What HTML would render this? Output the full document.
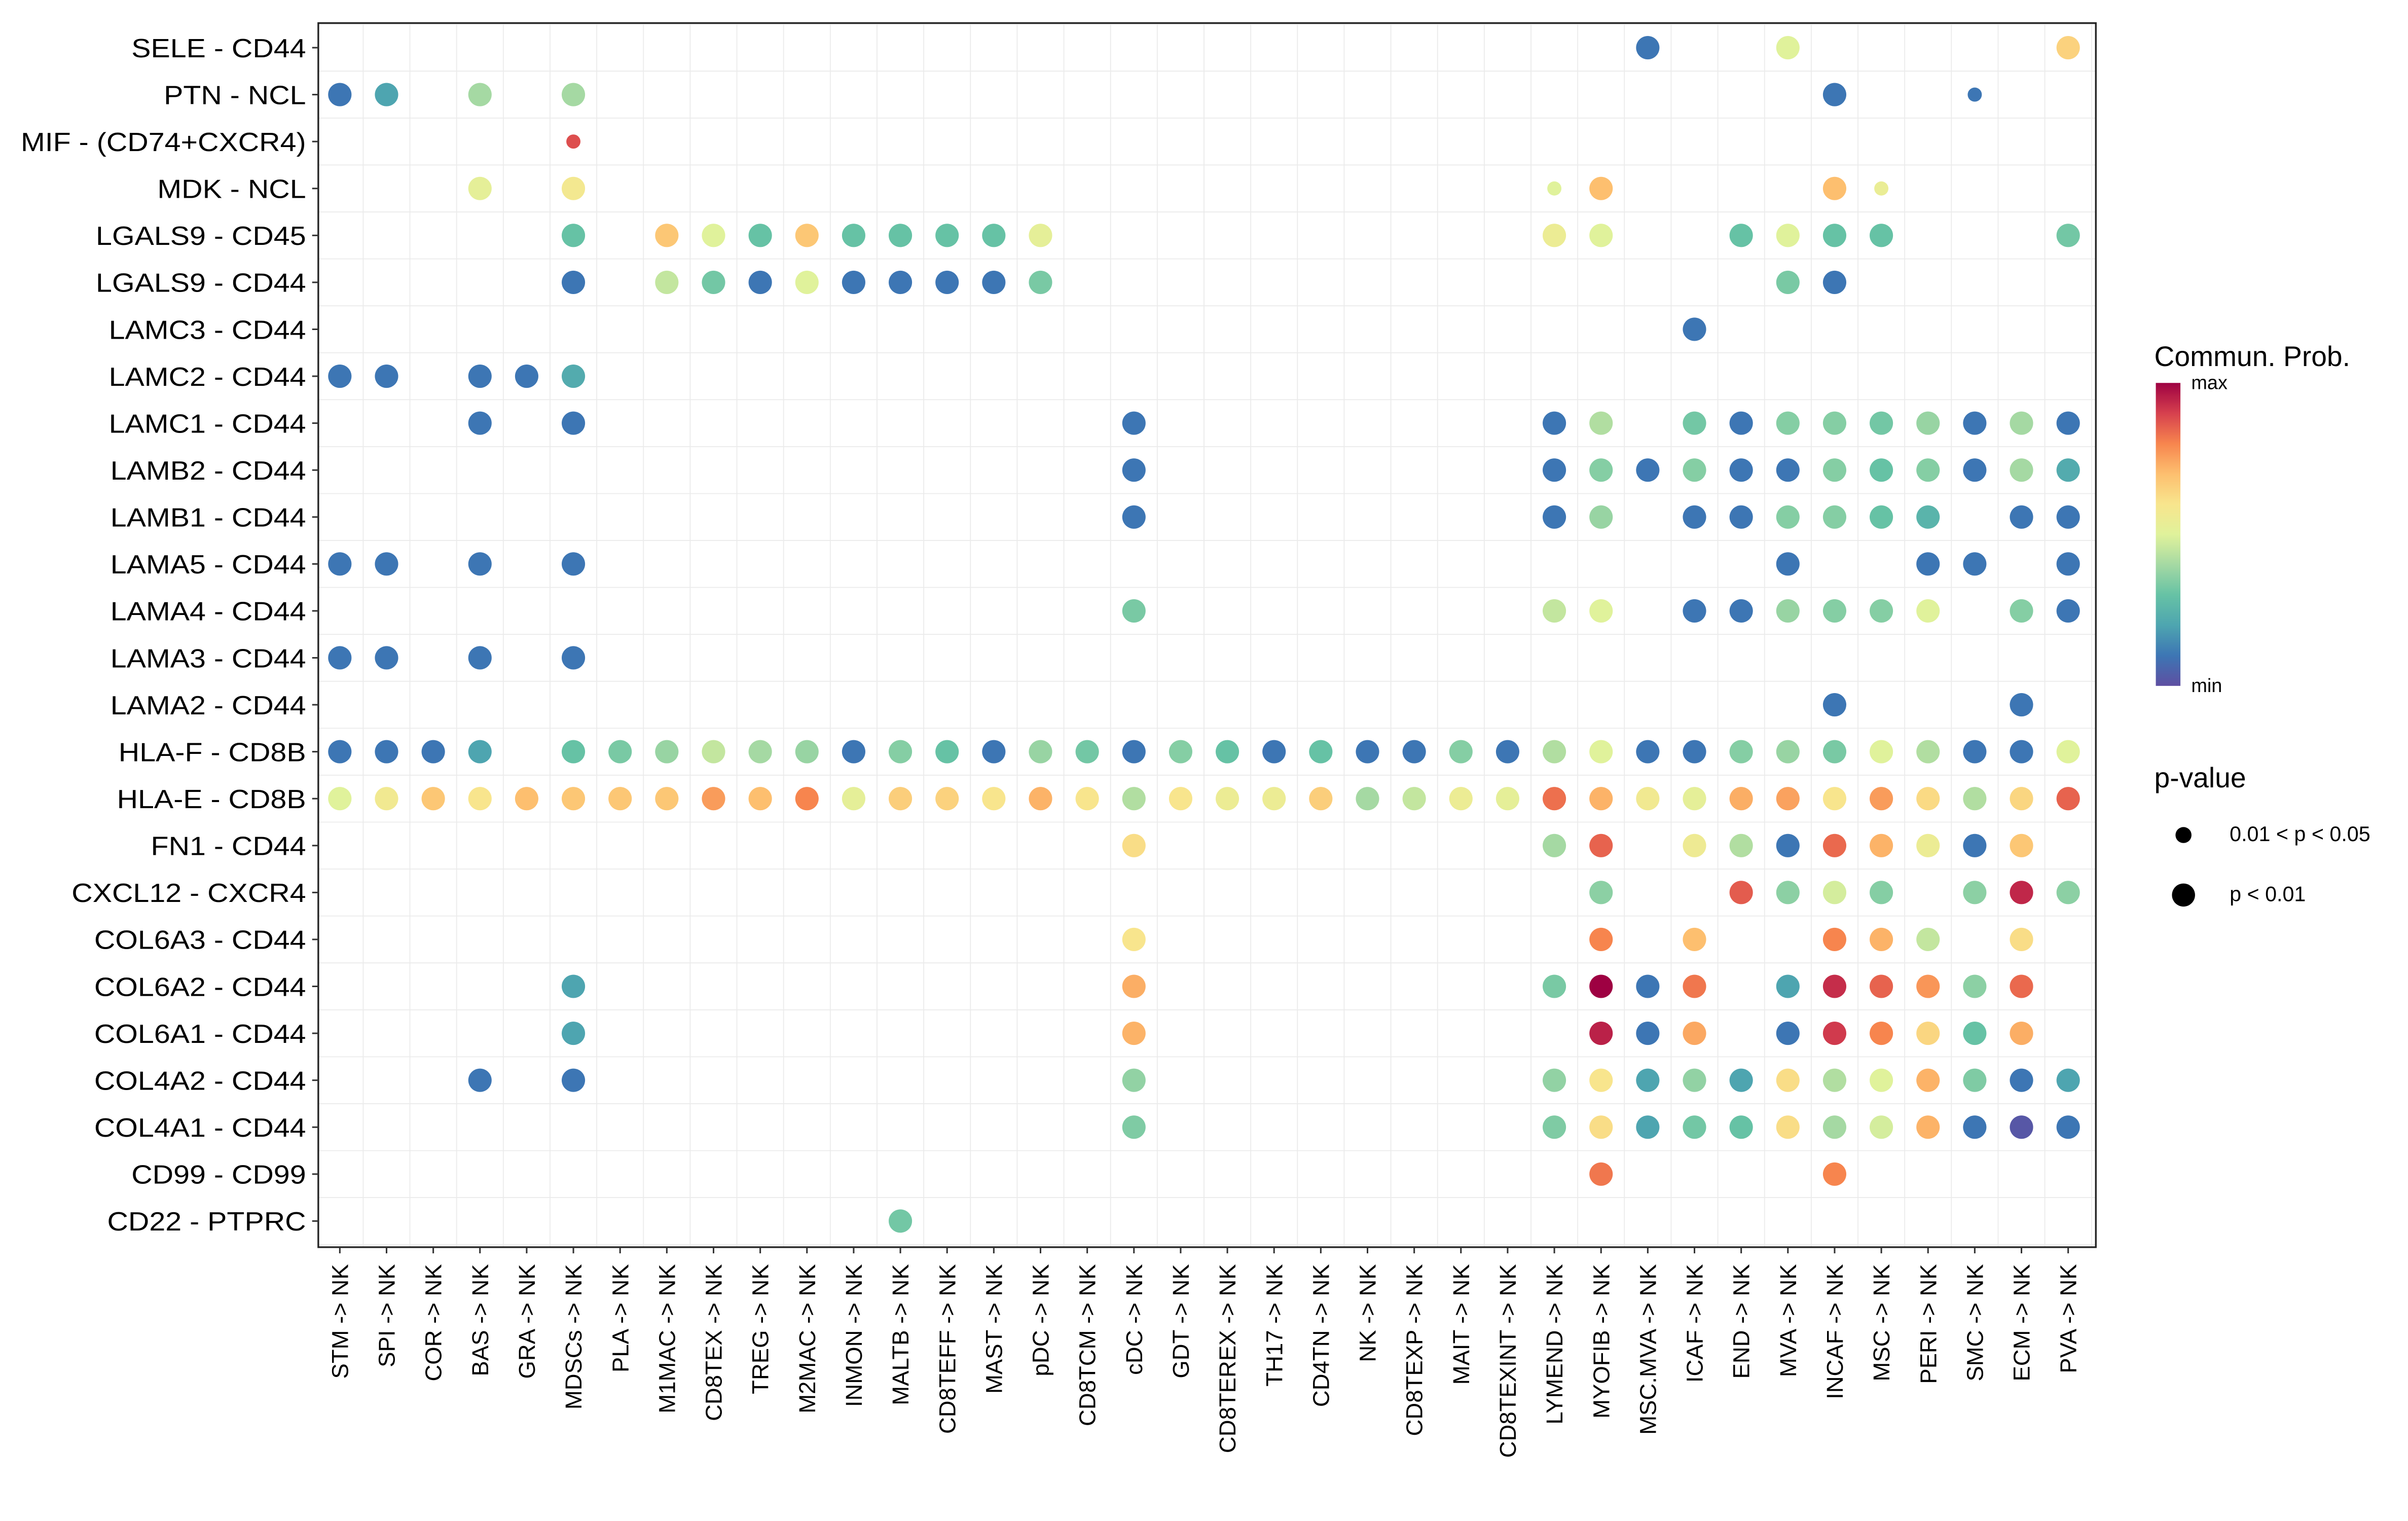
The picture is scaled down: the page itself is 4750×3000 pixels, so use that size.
<!DOCTYPE html>
<html><head><meta charset="utf-8"><style>
html,body{margin:0;padding:0;background:#fff;}
svg{display:block;font-family:"Liberation Sans",Arial,sans-serif;}
</style></head><body>
<svg id="chart" width="4750" height="3000" viewBox="0 0 1566 989.05" xmlns="http://www.w3.org/2000/svg">
<defs>
<linearGradient id="cbar" x1="0" y1="1" x2="0" y2="0">
<stop offset="0" stop-color="#5e4fa2"/><stop offset="0.1" stop-color="#3d76b4"/><stop offset="0.2" stop-color="#4ea5b0"/><stop offset="0.3" stop-color="#66c2a5"/><stop offset="0.4" stop-color="#a5d9a3"/><stop offset="0.5" stop-color="#e0f29b"/><stop offset="0.6" stop-color="#f8e58d"/><stop offset="0.7" stop-color="#fdbf6f"/><stop offset="0.8" stop-color="#f7854e"/><stop offset="0.9" stop-color="#d6404e"/><stop offset="1" stop-color="#9e0142"/>
</linearGradient>
</defs>
<g id="grid"></g>
<g id="dots"></g>
<rect x="207" y="15" width="1156" height="796" fill="none" stroke="#222" stroke-width="1.1"/>
<g id="ylab"></g>
<g id="xlab"></g>
<g>
<text x="1401" y="238" font-size="18.2">Commun. Prob.</text>
<rect x="1402" y="249" width="16" height="197" fill="url(#cbar)"/>
<text x="1425" y="253" font-size="12.5">max</text>
<text x="1425" y="450" font-size="12.5">min</text>
<text x="1401" y="512" font-size="18.2">p-value</text>
<circle cx="1420" cy="543" r="5.2" fill="#000"/>
<text x="1450" y="547" font-size="13.6">0.01 &lt; p &lt; 0.05</text>
<circle cx="1420" cy="582" r="7.5" fill="#000"/>
<text x="1450" y="586" font-size="13.6">p &lt; 0.01</text>
</g>
</svg>
<script>
const cols = ["STM","SPI","COR","BAS","GRA","MDSCs","PLA","M1MAC","CD8TEX","TREG","M2MAC","INMON","MALTB","CD8TEFF","MAST","pDC","CD8TCM","cDC","GDT","CD8TEREX","TH17","CD4TN","NK","CD8TEXP","MAIT","CD8TEXINT","LYMEND","MYOFIB","MSC.MVA","ICAF","END","MVA","INCAF","MSC","PERI","SMC","ECM","PVA"];
const rows = ["SELE - CD44","PTN - NCL","MIF - (CD74+CXCR4)","MDK - NCL","LGALS9 - CD45","LGALS9 - CD44","LAMC3 - CD44","LAMC2 - CD44","LAMC1 - CD44","LAMB2 - CD44","LAMB1 - CD44","LAMA5 - CD44","LAMA4 - CD44","LAMA3 - CD44","LAMA2 - CD44","HLA-F - CD8B","HLA-E - CD8B","FN1 - CD44","CXCL12 - CXCR4","COL6A3 - CD44","COL6A2 - CD44","COL6A1 - CD44","COL4A2 - CD44","COL4A1 - CD44","CD99 - CD99","CD22 - PTPRC"];
// each entry: [column, probability (0=min,1=max), small (p 0.01-0.05)]
const r0 = [["MSC.MVA",0.1],["MVA",0.5],["PVA",0.65]];
const r1 = [["STM",0.1],["SPI",0.2],["BAS",0.4],["MDSCs",0.4],["INCAF",0.1],["SMC",0.1,1]];
const r2 = [["MDSCs",0.88,1]];
const r3 = [["BAS",0.52],["MDSCs",0.58],["LYMEND",0.5,1],["MYOFIB",0.7],["INCAF",0.7],["MSC",0.54,1]];
const r4 = [["MDSCs",0.3],["M1MAC",0.68],["CD8TEX",0.5],["TREG",0.3],["M2MAC",0.68],["INMON",0.3],["MALTB",0.3],["CD8TEFF",0.3],["MAST",0.3],["pDC",0.52],["LYMEND",0.55],["MYOFIB",0.5],["END",0.3],["MVA",0.5],["INCAF",0.3],["MSC",0.3],["PVA",0.32]];
const r5 = [["MDSCs",0.1],["M1MAC",0.45],["CD8TEX",0.32],["TREG",0.1],["M2MAC",0.5],["INMON",0.1],["MALTB",0.1],["CD8TEFF",0.1],["MAST",0.1],["pDC",0.33],["MVA",0.33],["INCAF",0.1]];
const r6 = [["ICAF",0.1]];
const r7 = [["STM",0.1],["SPI",0.1],["BAS",0.1],["GRA",0.1],["MDSCs",0.22]];
const r8 = [["BAS",0.1],["MDSCs",0.1],["cDC",0.1],["LYMEND",0.1],["MYOFIB",0.42],["ICAF",0.32],["END",0.1],["MVA",0.35],["INCAF",0.35],["MSC",0.32],["PERI",0.38],["SMC",0.1],["ECM",0.4],["PVA",0.1]];
const r9 = [["cDC",0.1],["LYMEND",0.1],["MYOFIB",0.35],["MSC.MVA",0.1],["ICAF",0.35],["END",0.1],["MVA",0.1],["INCAF",0.35],["MSC",0.3],["PERI",0.35],["SMC",0.1],["ECM",0.4],["PVA",0.22]];
const r10 = [["cDC",0.1],["LYMEND",0.1],["MYOFIB",0.38],["ICAF",0.1],["END",0.1],["MVA",0.35],["INCAF",0.35],["MSC",0.3],["PERI",0.25],["ECM",0.1],["PVA",0.1]];
const r11 = [["STM",0.1],["SPI",0.1],["BAS",0.1],["MDSCs",0.1],["MVA",0.1],["PERI",0.1],["SMC",0.1],["PVA",0.1]];
const r12 = [["cDC",0.33],["LYMEND",0.45],["MYOFIB",0.5],["ICAF",0.1],["END",0.1],["MVA",0.38],["INCAF",0.35],["MSC",0.35],["PERI",0.5],["ECM",0.35],["PVA",0.1]];
const r13 = [["STM",0.1],["SPI",0.1],["BAS",0.1],["MDSCs",0.1]];
const r14 = [["INCAF",0.1],["ECM",0.1]];
const r15 = [["STM",0.1],["SPI",0.1],["COR",0.1],["BAS",0.2],["MDSCs",0.3],["PLA",0.33],["M1MAC",0.38],["CD8TEX",0.45],["TREG",0.4],["M2MAC",0.38],["INMON",0.1],["MALTB",0.35],["CD8TEFF",0.3],["MAST",0.1],["pDC",0.38],["CD8TCM",0.32],["cDC",0.1],["GDT",0.35],["CD8TEREX",0.3],["TH17",0.1],["CD4TN",0.3],["NK",0.1],["CD8TEXP",0.1],["MAIT",0.35],["CD8TEXINT",0.1],["LYMEND",0.42],["MYOFIB",0.5],["MSC.MVA",0.1],["ICAF",0.1],["END",0.35],["MVA",0.38],["INCAF",0.33],["MSC",0.5],["PERI",0.42],["SMC",0.1],["ECM",0.1],["PVA",0.5]];
const r16 = [["STM",0.5],["SPI",0.57],["COR",0.68],["BAS",0.6],["GRA",0.7],["MDSCs",0.68],["PLA",0.68],["M1MAC",0.68],["CD8TEX",0.76],["TREG",0.7],["M2MAC",0.8],["INMON",0.52],["MALTB",0.66],["CD8TEFF",0.65],["MAST",0.6],["pDC",0.72],["CD8TCM",0.6],["cDC",0.42],["GDT",0.6],["CD8TEREX",0.55],["TH17",0.55],["CD4TN",0.66],["NK",0.4],["CD8TEXP",0.45],["MAIT",0.55],["CD8TEXINT",0.52],["LYMEND",0.83],["MYOFIB",0.72],["MSC.MVA",0.57],["ICAF",0.52],["END",0.73],["MVA",0.75],["INCAF",0.6],["MSC",0.76],["PERI",0.63],["SMC",0.42],["ECM",0.64],["PVA",0.85]];
const r17 = [["cDC",0.62],["LYMEND",0.4],["MYOFIB",0.85],["ICAF",0.56],["END",0.42],["MVA",0.1],["INCAF",0.84],["MSC",0.72],["PERI",0.55],["SMC",0.1],["ECM",0.68]];
const r18 = [["MYOFIB",0.36],["END",0.86],["MVA",0.36],["INCAF",0.48],["MSC",0.35],["SMC",0.36],["ECM",0.94],["PVA",0.36]];
const r19 = [["cDC",0.6],["MYOFIB",0.8],["ICAF",0.7],["INCAF",0.8],["MSC",0.72],["PERI",0.45],["ECM",0.62]];
const r20 = [["MDSCs",0.2],["cDC",0.73],["LYMEND",0.33],["MYOFIB",1.0],["MSC.MVA",0.1],["ICAF",0.82],["MVA",0.2],["INCAF",0.93],["MSC",0.85],["PERI",0.77],["SMC",0.36],["ECM",0.84]];
const r21 = [["MDSCs",0.2],["cDC",0.72],["MYOFIB",0.95],["MSC.MVA",0.1],["ICAF",0.74],["MVA",0.1],["INCAF",0.91],["MSC",0.8],["PERI",0.64],["SMC",0.3],["ECM",0.73]];
const r22 = [["BAS",0.1],["MDSCs",0.1],["cDC",0.37],["LYMEND",0.37],["MYOFIB",0.6],["MSC.MVA",0.2],["ICAF",0.37],["END",0.2],["MVA",0.62],["INCAF",0.42],["MSC",0.5],["PERI",0.72],["SMC",0.34],["ECM",0.1],["PVA",0.2]];
const r23 = [["cDC",0.34],["LYMEND",0.34],["MYOFIB",0.62],["MSC.MVA",0.2],["ICAF",0.32],["END",0.3],["MVA",0.62],["INCAF",0.4],["MSC",0.48],["PERI",0.72],["SMC",0.1],["ECM",0.02],["PVA",0.1]];
const r24 = [["MYOFIB",0.82],["INCAF",0.8]];
const r25 = [["MALTB",0.32]];
const values = [r0,r1,r2,r3,r4,r5,r6,r7,r8,r9,r10,r11,r12,r13,r14,r15,r16,r17,r18,r19,r20,r21,r22,r23,r24,r25];

const stops=[[0,"#5e4fa2"],[0.1,"#3d76b4"],[0.2,"#4ea5b0"],[0.3,"#66c2a5"],[0.4,"#a5d9a3"],[0.5,"#e0f29b"],[0.6,"#f8e58d"],[0.7,"#fdbf6f"],[0.8,"#f7854e"],[0.9,"#d6404e"],[1,"#9e0142"]];
function hex(h){return [1,3,5].map(i=>parseInt(h.substr(i,2),16));}
function color(v){
  for(let i=1;i<stops.length;i++){ if(v<=stops[i][0]){const a=stops[i-1],b=stops[i];const t=(v-a[0])/(b[0]-a[0]);const ca=hex(a[1]),cb=hex(b[1]);return "rgb("+ca.map((c,k)=>Math.round(c+(cb[k]-c)*t)).join(",")+")";}}
  return stops[stops.length-1][1];
}
const X0=221,DX=(1345-221)/37,Y0=31,DY=(794-31)/25;
function xs(c){return X0+cols.indexOf(c)*DX;}
function xi(i){return X0+i*DX;}
function ys(j){return Y0+j*DY;}
const NS="http://www.w3.org/2000/svg";
function mk(tag,attrs,parent){const e=document.createElementNS(NS,tag);for(const k in attrs)e.setAttribute(k,attrs[k]);parent.appendChild(e);return e;}
const grid=document.getElementById('grid'),dots=document.getElementById('dots'),ylab=document.getElementById('ylab'),xlab=document.getElementById('xlab');
for(let i=0;i<=cols.length;i++){const x=xi(i-0.5);if(x<207||x>1363)continue;const l=mk('line',{x1:x,x2:x,y1:15,y2:811,stroke:'#ebebeb','stroke-width':0.6},grid);

}
for(let j=0;j<=rows.length;j++){const y=ys(j-0.5);if(y<15||y>811)continue;const l=mk('line',{x1:207,x2:1363,y1:y,y2:y,stroke:'#ebebeb','stroke-width':0.6},grid);

}
rows.forEach((r,j)=>{
  const t=mk('text',{transform:`translate(199,${ys(j)+6.2}) scale(1.1,1)`,'text-anchor':'end','font-size':17.2},ylab);t.textContent=r;
  
  
  const tk=mk('line',{x1:203,x2:207,y1:ys(j),y2:ys(j),stroke:'#333','stroke-width':1},ylab);
  
  
  values[j].forEach(d=>{
    const c=mk('circle',{cx:xs(d[0]),cy:ys(j),r:d[2]?4.6:7.6,fill:color(d[1])},dots);
    
    
  });
});
cols.forEach((c,i)=>{
  const x=xi(i);
  const t=mk('text',{transform:`translate(${x+5.3},822) rotate(-90)`,'text-anchor':'end','font-size':15},xlab);t.textContent=c+" -> NK";
  
  
  const tk=mk('line',{x1:x,x2:x,y1:811,y2:815,stroke:'#333','stroke-width':1},xlab);
  
  
});
</script>
</body></html>
